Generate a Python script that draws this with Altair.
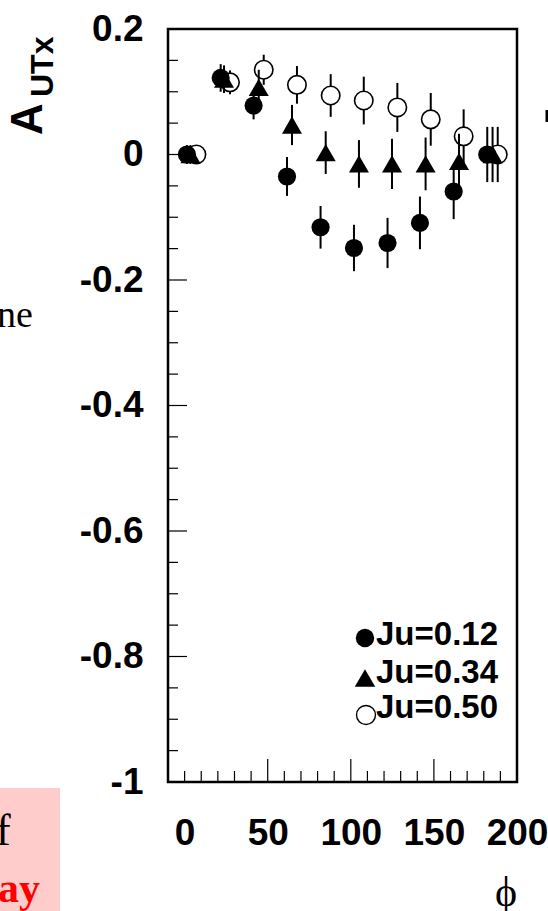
import altair as alt
import pandas as pd

# ---- data ----
phi_filled = [1.4, 21.7, 41.5, 61.6, 81.8, 101.9, 122.1, 141.6, 161.9, 182.1]
a_filled = [0.0, 0.122, 0.078, -0.035, -0.116, -0.149, -0.141, -0.109, -0.059, 0.0]
e_filled = [0.015, 0.022, 0.022, 0.031, 0.034, 0.037, 0.040, 0.042, 0.044, 0.044]

phi_tri = [3.5, 23.7, 44.6, 64.6, 84.9, 104.9, 124.8, 145.0, 165.1, 185.3]
a_tri = [0.0, 0.120, 0.107, 0.047, 0.003, -0.015, -0.015, -0.015, -0.011, 0.0]
e_tri = [0.015, 0.022, 0.028, 0.032, 0.034, 0.038, 0.040, 0.042, 0.044, 0.044]

phi_open = [7.1, 27.3, 47.6, 67.6, 87.9, 107.8, 128.0, 148.1, 167.9, 188.4]
a_open = [0.0, 0.115, 0.135, 0.111, 0.094, 0.086, 0.075, 0.056, 0.029, 0.0]
e_open = [0.015, 0.019, 0.024, 0.030, 0.034, 0.038, 0.039, 0.042, 0.043, 0.044]

legend_labels = ["Ju=0.12", "Ju=0.34", "Ju=0.50"]

x_labels = [0, 50, 100, 150, 200]
y_labels = [0.2, 0, -0.2, -0.4, -0.6, -0.8, -1]
x_major = [50, 100, 150]
x_minor = [0, 10, 20, 30, 40, 60, 70, 80, 90, 110, 120, 130, 140, 160, 170, 180, 190]
y_major = [0.2, 0, -0.2, -0.4, -0.6, -0.8, -1]
y_minor = [0.15, 0.1, 0.05, -0.05, -0.1, -0.15, -0.25, -0.3, -0.35, -0.45, -0.5,
           -0.55, -0.65, -0.7, -0.75, -0.85, -0.9, -0.95]

W, H = 349, 753
SANS = "Liberation Sans, Arial, Helvetica"
SERIF = "Liberation Serif, Times New Roman, DejaVu Serif"

xs = alt.Scale(domain=[-10, 200], nice=False, zero=False)
ys = alt.Scale(domain=[-1, 0.2], nice=False, zero=False)

AX = alt.Axis(values=x_labels, title=None, ticks=False, domain=False, grid=False,
              labelFont=SANS, labelFontSize=37, labelFontWeight="bold", labelColor="black",
              labelPadding=33, labelFlush=False, labelOverlap=False, labelBound=False,
              labelExpr="'' + datum.value")
AY = alt.Axis(values=y_labels, title=None, ticks=False, domain=False, grid=False,
              labelFont=SANS, labelFontSize=37, labelFontWeight="bold", labelColor="black",
              labelPadding=25, labelFlush=False, labelOverlap=False, labelBound=False,
              labelExpr="'' + datum.value")


def X(field):
    return alt.X(field, scale=xs, axis=AX)


def Y(field):
    return alt.Y(field, scale=ys, axis=AY)


def series_df(phi, a, e):
    df = pd.DataFrame({"phi": phi, "a": a, "e": e})
    df["lo"] = df["a"] - df["e"]
    df["hi"] = df["a"] + df["e"]
    return df


df_f = series_df(phi_filled, a_filled, e_filled)
df_t = series_df(phi_tri, a_tri, e_tri)
df_o = series_df(phi_open, a_open, e_open)


# tick marks inside the frame
def yticks(vals, length):
    return alt.Chart(pd.DataFrame({"v": vals})).mark_rule(color="black", strokeWidth=1.2).encode(
        y=Y("v:Q"), x=alt.value(0), x2=alt.value(length))


def xticks(vals, length):
    return alt.Chart(pd.DataFrame({"v": vals})).mark_rule(color="black", strokeWidth=1.2).encode(
        x=X("v:Q"), y=alt.value(H), y2=alt.value(H - length))


def errbars(df):
    return alt.Chart(df).mark_rule(color="black", strokeWidth=2).encode(
        x=X("phi:Q"), y=Y("lo:Q"), y2="hi:Q")


def markers(df, **kw):
    return alt.Chart(df).mark_point(opacity=1, **kw).encode(x=X("phi:Q"), y=Y("a:Q"))


open_pts = markers(df_o, shape="circle", filled=True, fill="white", stroke="black",
                   strokeWidth=1.6, size=340)
tri_pts = markers(df_t, shape="triangle-up", filled=True, color="black", size=400)
fil_pts = markers(df_f, shape="circle", filled=True, color="black", size=330)

# legend inside the plot
leg_sym_f = alt.Chart(pd.DataFrame({"k": [0]})).mark_point(
    shape="circle", filled=True, color="black", size=340, opacity=1).encode(
    x=alt.value(197), y=alt.value(609))
leg_sym_t = alt.Chart(pd.DataFrame({"k": [0]})).mark_point(
    shape="triangle-up", filled=True, color="black", size=420, opacity=1).encode(
    x=alt.value(197), y=alt.value(649))
leg_sym_o = alt.Chart(pd.DataFrame({"k": [0]})).mark_point(
    shape="circle", filled=True, fill="white", stroke="black", strokeWidth=1.4,
    size=360, opacity=1).encode(x=alt.value(198), y=alt.value(686))


def leg_text(label, y):
    return alt.Chart(pd.DataFrame({"t": [label]})).mark_text(
        font=SANS, fontSize=33, fontWeight="bold", color="black",
        align="left", baseline="alphabetic").encode(
        text="t:N", x=alt.value(208), y=alt.value(y))


leg_texts = [leg_text(legend_labels[0], 616), leg_text(legend_labels[1], 654),
             leg_text(legend_labels[2], 689)]

# axis titles
title_A = alt.Chart(pd.DataFrame({"t": ["A"]})).mark_text(
    font=SANS, fontSize=44, fontWeight="bold", color="black", angle=270,
    align="left", baseline="alphabetic").encode(text="t:N", x=alt.value(-126), y=alt.value(106))
title_sub = alt.Chart(pd.DataFrame({"t": ["UTx"]})).mark_text(
    font=SANS, fontSize=32, fontWeight="bold", color="black", angle=270,
    align="left", baseline="alphabetic").encode(text="t:N", x=alt.value(-115), y=alt.value(68))
title_phi = alt.Chart(pd.DataFrame({"t": ["ϕ"]})).mark_text(
    font=SERIF, fontSize=42, color="black", align="center", baseline="middle").encode(
    text="t:N", x=alt.value(338), y=alt.value(864))

# fragments of the surrounding slide
pink = alt.Chart(pd.DataFrame({"k": [0]})).mark_rect(color="#ffcccc").encode(
    x=alt.value(-168), x2=alt.value(-108), y=alt.value(759), y2=alt.value(H + 140))
frag_ne = alt.Chart(pd.DataFrame({"t": ["ne"]})).mark_text(
    font=SERIF, fontSize=38, color="black", align="left", baseline="alphabetic").encode(
    text="t:N", x=alt.value(-171), y=alt.value(298))
frag_f = alt.Chart(pd.DataFrame({"t": ["f"]})).mark_text(
    font=SERIF, fontSize=44, color="black", align="left", baseline="alphabetic").encode(
    text="t:N", x=alt.value(-172), y=alt.value(816))
frag_ay = alt.Chart(pd.DataFrame({"t": ["ay"]})).mark_text(
    font=SERIF, fontSize=42, fontWeight="bold", color="#ff0000", align="left",
    baseline="alphabetic").encode(text="t:N", x=alt.value(-170), y=alt.value(873))
frag_dash = alt.Chart(pd.DataFrame({"k": [0]})).mark_rule(color="black", strokeWidth=3).encode(
    x=alt.value(379), y=alt.value(81), y2=alt.value(93))

chart = alt.layer(
    pink, frag_ne, frag_f, frag_ay, frag_dash,
    yticks(y_major, 19), yticks(y_minor, 10),
    xticks(x_major, 23), xticks(x_minor, 11),
    errbars(df_o), open_pts,
    errbars(df_t), tri_pts,
    errbars(df_f), fil_pts,
    leg_sym_o, leg_sym_t, leg_sym_f, *leg_texts,
    title_A, title_sub, title_phi,
).properties(
    width=W, height=H,
    autosize=alt.AutoSizeParams(type="none"),
    padding={"left": 168, "top": 29, "right": 31, "bottom": 129},
    background="white",
).configure_view(stroke="black", strokeWidth=2.5)

chart.save("out.html", embed_options={"renderer": "svg", "actions": False})
